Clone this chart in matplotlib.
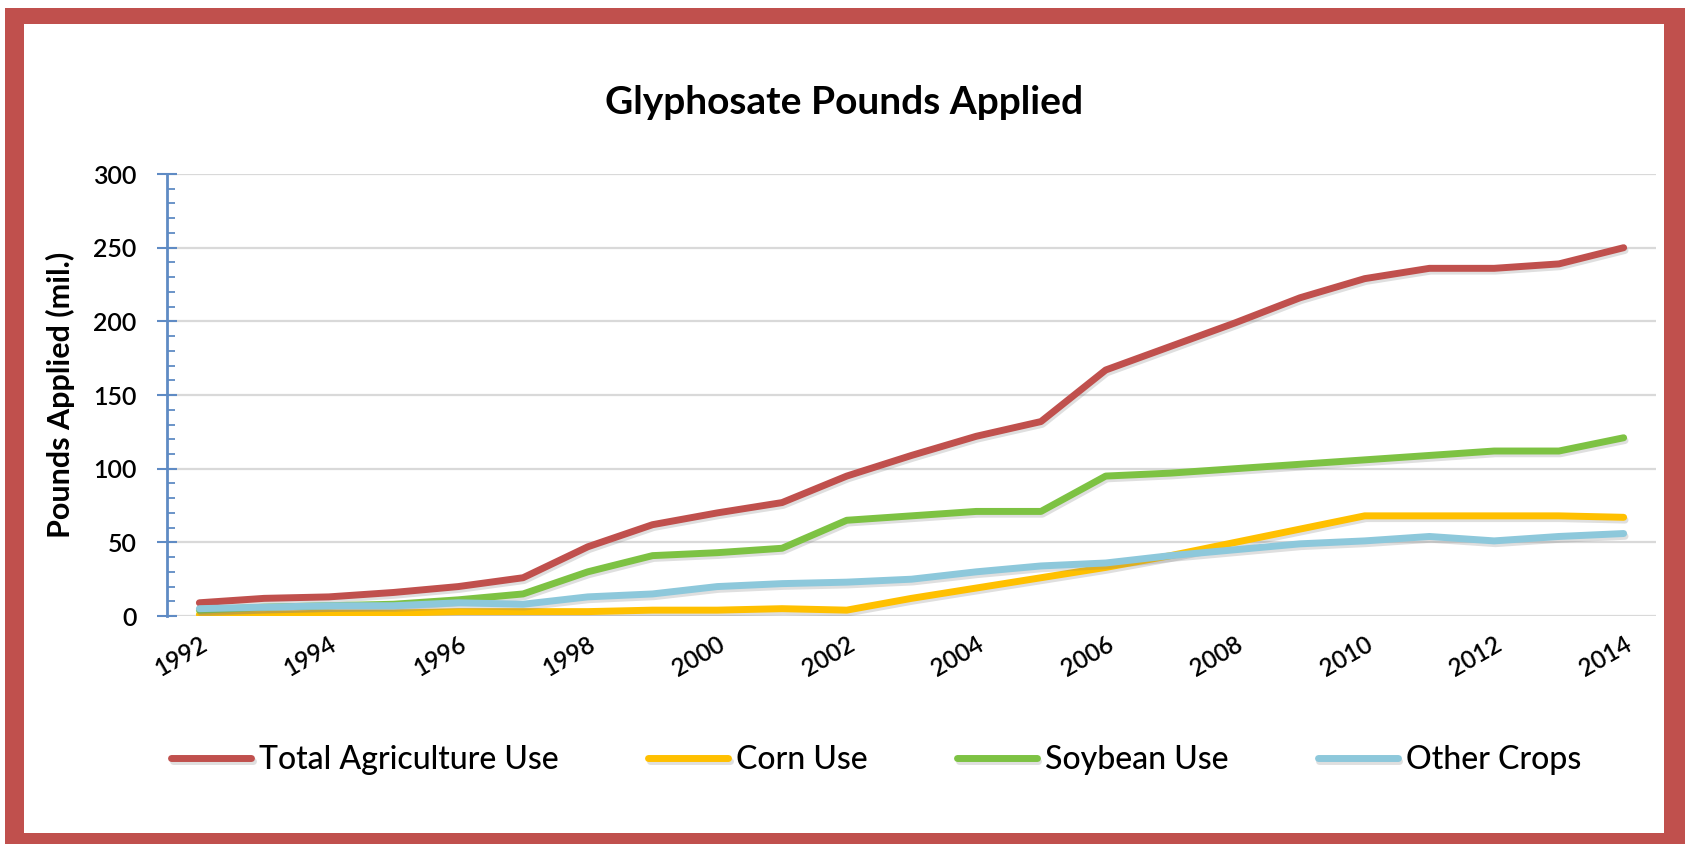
import numpy as np
import matplotlib
matplotlib.use("Agg")
import matplotlib.pyplot as plt
from matplotlib.patches import Rectangle
import matplotlib.patheffects as pe
from matplotlib.ticker import MultipleLocator

plt.rcParams['font.family'] = ['Lato', 'DejaVu Sans']

years = list(range(1992, 2015))
total_use = [9, 12, 13, 16, 20, 26, 47, 62, 70, 77, 95, 109, 122, 132,
             167, 183, 199, 216, 229, 236, 236, 239, 250]
corn_use = [1, 1, 2, 2, 3, 3, 3, 4, 4, 5, 4, 12, 19, 26,
            33, 41, 50, 59, 68, 68, 68, 68, 67]
soybean_use = [4, 6, 7, 8, 11, 15, 30, 41, 43, 46, 65, 68, 71, 71,
               95, 97, 100, 103, 106, 109, 112, 112, 121]
other_crops = [5, 6, 7, 7, 9, 8, 13, 15, 20, 22, 23, 25, 30, 34,
               36, 41, 45, 49, 51, 54, 51, 54, 56]

series = [
    ("Total Agriculture Use", total_use, "#C0504D"),
    ("Corn Use", corn_use, "#FFC000"),
    ("Soybean Use", soybean_use, "#7DC243"),
    ("Other Crops", other_crops, "#8DC8DB"),
]

fig = plt.figure(figsize=(16.85, 8.44), dpi=100)

# red frame around the chart
fig.patches.append(Rectangle((5 / 1685, 0), 1 - 5 / 1685, 1 - 8 / 844,
                             transform=fig.transFigure, facecolor="#C0504D",
                             edgecolor="none", zorder=-2))
fig.patches.append(Rectangle((24 / 1685, 11 / 844), (1664 - 24) / 1685, (820 - 11) / 844,
                             transform=fig.transFigure, facecolor="white",
                             edgecolor="none", zorder=-1))

ax = fig.add_axes([0.0991, 0.2701, 0.9828 - 0.0991, 0.7938 - 0.2701])
ax.set_facecolor("none")

shadow = [pe.SimpleLineShadow(offset=(1, -2), shadow_color="gray", alpha=0.25), pe.Normal()]
for name, vals, col in series:
    ax.plot(years, vals, color=col, lw=5, label=name,
            solid_capstyle="round", path_effects=shadow)

ax.set_xlim(1991.5, 2014.5)
ax.set_ylim(0, 300)
ax.yaxis.set_major_locator(MultipleLocator(50))
ax.yaxis.set_minor_locator(MultipleLocator(10))
ax.set_xticks(years[::2])
ax.set_xticklabels([str(y) for y in years[::2]], rotation=30, ha="right",
                   rotation_mode="anchor", fontsize=17.5, fontweight="semibold")
ax.tick_params(axis="x", length=0, pad=12)
ax.tick_params(axis="y", which="major", direction="inout", length=14, width=1.5,
               color="#5F8BC4", labelsize=18, pad=15)
ax.tick_params(axis="y", which="minor", direction="in", length=6, width=1.3,
               color="#5F8BC4")
for t in ax.get_yticklabels():
    t.set_fontweight("semibold")

ax.grid(axis="y", color="#D9D9D9", lw=1.6)
ax.set_axisbelow(True)
for s in ["top", "right", "bottom"]:
    ax.spines[s].set_visible(False)
ax.spines["left"].set_color("#5F8BC4")
ax.spines["left"].set_linewidth(2)

ax.set_ylabel("Pounds Applied (mil.)", fontsize=22, fontweight="bold")
ax.yaxis.set_label_coords(-0.062, 0.5)
fig.text(0.501, 0.879, "Glyphosate Pounds Applied", ha="center", va="center",
         fontsize=28, fontweight="bold")

fig.legend(loc="center", bbox_to_anchor=(0.52, 0.0995), ncol=4, frameon=False,
           handlelength=2.5, handletextpad=0.25, columnspacing=2.8,
           prop={"size": 23, "weight": "medium"})

fig.savefig("out.png", dpi=100)
